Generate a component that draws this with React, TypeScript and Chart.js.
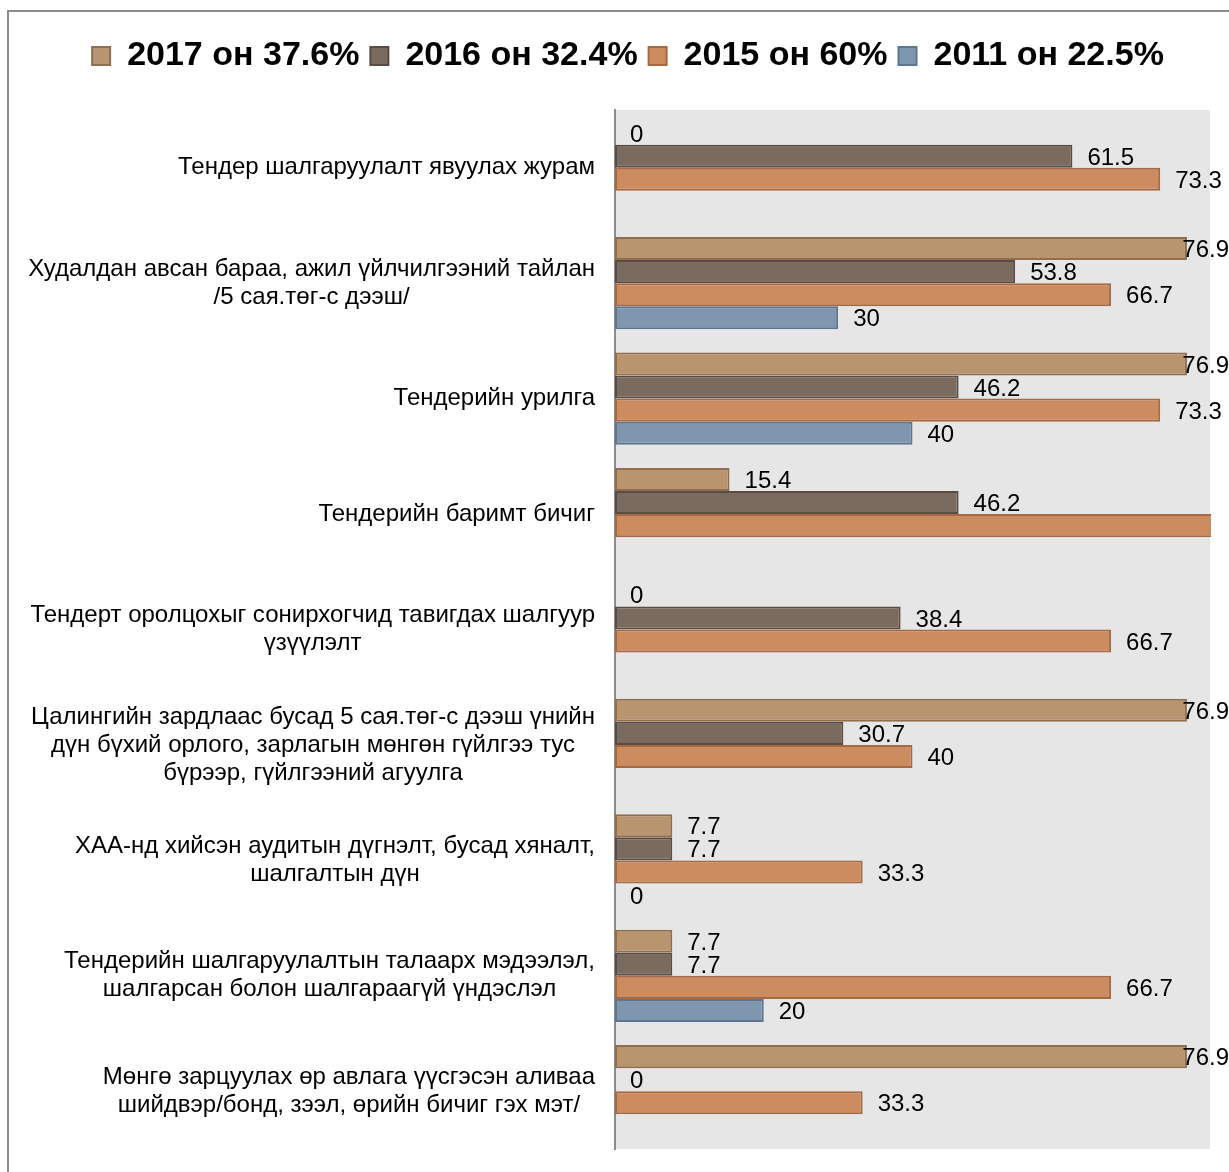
import React, { useEffect, useRef } from 'react';
import { Chart, registerables } from 'chart.js';

Chart.register(...registerables);

const categories: string[][] = [
  ['Тендер шалгаруулалт явуулах журам'],
  ['Худалдан авсан бараа, ажил үйлчилгээний тайлан', '/5 сая.төг-с дээш/'],
  ['Тендерийн урилга'],
  ['Тендерийн баримт бичиг'],
  ['Тендерт оролцохыг сонирхогчид тавигдах шалгуур', 'үзүүлэлт'],
  ['Цалингийн зардлаас бусад 5 сая.төг-с дээш үнийн', 'дүн бүхий орлого, зарлагын мөнгөн гүйлгээ тус', 'бүрээр, гүйлгээний агуулга'],
  ['ХАА-нд хийсэн аудитын дүгнэлт, бусад хяналт,', 'шалгалтын дүн'],
  ['Тендерийн шалгаруулалтын талаарх мэдээлэл,', 'шалгарсан болон шалгараагүй үндэслэл'],
  ['Мөнгө зарцуулах өр авлага үүсгэсэн аливаа', 'шийдвэр/бонд, зээл, өрийн бичиг гэх мэт/'],
];

const seriesNames = ['2017 он 37.6%', '2016 он 32.4%', '2015 он 60%', '2011 он 22.5%'];
const values2017: (number | null)[] = [0, 76.9, 76.9, 15.4, 0, 76.9, 7.7, 7.7, 76.9];
const values2016: (number | null)[] = [61.5, 53.8, 46.2, 46.2, 38.4, 30.7, 7.7, 7.7, 0];
const values2015: (number | null)[] = [73.3, 66.7, 73.3, 86.7, 66.7, 40, 33.3, 66.7, 33.3];
const values2011: (number | null)[] = [null, 30, 40, null, null, null, 0, 20, null];

const fills = ['#b9956f', '#7b6a5e', '#cd8c60', '#7e96ae'];
const borders = ['#8f6f4e', '#5a4c42', '#a56a43', '#5d7590'];

const FONT = '"Liberation Sans", Arial, sans-serif';
const X_MAX = 80;
const VISIBLE_RIGHT = 1222;

const framePlugin = {
  id: 'frame',
  beforeDraw(chart: any) {
    const { ctx, chartArea } = chart;
    ctx.save();
    ctx.fillStyle = '#ffffff';
    ctx.fillRect(0, 0, chart.width, chart.height);
    ctx.strokeStyle = '#8c8c8c';
    ctx.lineWidth = 2;
    ctx.strokeRect(1, 1, chart.width - 2, chart.height - 2);
    ctx.fillStyle = '#e6e6e6';
    ctx.fillRect(chartArea.left, chartArea.top, chartArea.right - chartArea.left, chartArea.bottom - chartArea.top);
    ctx.restore();
  },
};

const legendSpacer = {
  id: 'legendSpacer',
  afterInit(chart: any) {
    const legend = chart.legend;
    if (!legend || legend._patched) return;
    const orig = legend.fit;
    legend.fit = function () {
      orig.call(this);
      this.height += 27;
    };
    legend._patched = true;
  },
};

const categoryLabels = {
  id: 'categoryLabels',
  afterDraw(chart: any) {
    const { ctx } = chart;
    const yScale = chart.scales.y;
    ctx.save();
    ctx.font = `24px ${FONT}`;
    ctx.fillStyle = '#000000';
    ctx.textAlign = 'center';
    ctx.textBaseline = 'middle';
    const right = 588;
    const lh = 28;
    categories.forEach((lines, i) => {
      const yc = yScale.getPixelForValue(i);
      const maxW = Math.max(...lines.map((l) => ctx.measureText(l).width));
      const cx = right - maxW / 2;
      lines.forEach((l, j) => {
        ctx.fillText(l, cx, yc + (j - (lines.length - 1) / 2) * lh);
      });
    });
    ctx.restore();
  },
};

const valueLabels = {
  id: 'valueLabels',
  afterDatasetsDraw(chart: any) {
    const { ctx } = chart;
    ctx.save();
    ctx.font = `24px ${FONT}`;
    ctx.fillStyle = '#000000';
    ctx.textAlign = 'left';
    ctx.textBaseline = 'middle';
    chart.data.datasets.forEach((ds: any, di: number) => {
      const meta = chart.getDatasetMeta(di);
      meta.data.forEach((el: any, i: number) => {
        const v = ds.data[i];
        if (v === null || v === undefined || v > X_MAX) return;
        const text = String(v);
        const w = ctx.measureText(text).width;
        let x = el.x + 15;
        if (x + w > VISIBLE_RIGHT) x = VISIBLE_RIGHT - w;
        ctx.fillText(text, x, el.y + 2);
      });
    });
    ctx.restore();
  },
};

export default function App() {
  const ref = useRef<HTMLCanvasElement>(null);
  useEffect(() => {
    if (!ref.current) return;
    const seriesValues = [values2017, values2016, values2015, values2011];
    const chart = new Chart(ref.current, {
      type: 'bar',
      data: {
        labels: categories.map((c) => c.join(' ')),
        datasets: seriesNames.map((name, i) => ({
          label: name,
          data: seriesValues[i],
          backgroundColor: fills[i],
          borderColor: borders[i],
          borderWidth: 2,
          borderSkipped: false,
          categoryPercentage: 0.8,
          barPercentage: 1,
          clip: 1,
        })),
      },
      options: {
        indexAxis: 'y',
        responsive: false,
        animation: false,
        layout: { padding: { top: 18, left: 39, right: 39, bottom: 51 } },
        scales: {
          x: { display: false, min: 0, max: X_MAX },
          y: {
            grid: { display: false },
            border: { display: true, color: '#8c8c8c', width: 2 },
            ticks: { display: false },
            afterFit(scale: any) {
              scale.width = 569;
            },
          },
        },
        plugins: {
          legend: {
            position: 'top',
            labels: {
              boxWidth: 18,
              boxHeight: 18,
              padding: 11,
              color: '#000000',
              font: { family: FONT, size: 34, weight: 'bold' },
            },
          },
          tooltip: { enabled: false },
        },
      } as any,
      plugins: [framePlugin, legendSpacer, categoryLabels, valueLabels],
    });
    return () => chart.destroy();
  }, []);
  return (
    <div style={{ position: 'fixed', left: 7, top: 10, width: 1222, height: 1162, overflow: 'hidden' }}>
      <canvas ref={ref} width={1242} height={1190} style={{ display: 'block' }} />
    </div>
  );
}
